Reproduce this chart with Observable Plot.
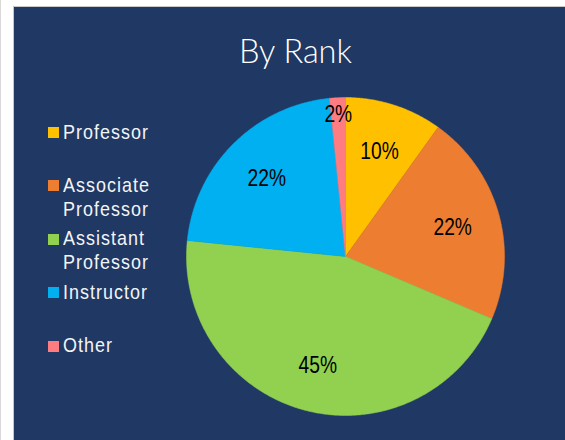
<!DOCTYPE html>
<html>
<head>
<meta charset="utf-8">
<script src="https://cdn.jsdelivr.net/npm/d3@7"></script>
<script src="https://cdn.jsdelivr.net/npm/@observablehq/plot@0.6"></script>
<style>
  html, body { margin: 0; padding: 0; background: #ffffff; }
  body { width: 565px; height: 440px; position: relative; overflow: hidden; }
  #edge { position: absolute; left: 0; top: 0; width: 1px; height: 440px; background: #d9d9d9; }
  #panel { position: absolute; left: 13px; top: 6px; width: 552px; height: 434px;
           background: #1f3864; border-left: 1px solid #c8c8c8; border-top: 1px solid #c8c8c8; box-sizing: border-box; }
  #title { position: absolute; left: 0; width: 563px; top: 28px; text-align: center;
           font-family: Lato, "Open Sans", sans-serif; font-weight: 300; font-size: 32.5px; line-height: 1;
           color: #ffffff; }
  #legend { position: absolute; left: 34px; top: 112.7px; }
  .item { position: relative; height: 53.4px; }
  .sw { position: absolute; left: 0; top: 7.3px; width: 11px; height: 11px; }
  .lab { position: absolute; left: 15px; top: 0; white-space: pre; color: #f4f4f4;
         font-family: "Liberation Sans", Arial, sans-serif;
         font-size: 21px; line-height: 24px; letter-spacing: 1.2px;
         transform: scaleX(0.855); transform-origin: 0 0; }
  #chart { position: absolute; left: 0; top: 0; }
</style>
</head>
<body>
<div id="edge"></div>
<div id="panel">
  <div id="title">By Rank</div>
  <div id="legend"></div>
  <div id="chart"></div>
</div>
<script>
// Data
const categories = ["Professor", "Associate Professor", "Assistant Professor", "Instructor", "Other"];
const legendLabels = ["Professor", "Associate\nProfessor", "Assistant\nProfessor", "Instructor", "Other"];
const shares = [9.9, 21.5, 45.2, 21.8, 1.6];
const sliceLabels = ["10%", "22%", "45%", "22%", "2%"];
const colors = ["#ffc000", "#ed7d31", "#92d050", "#00b0f0", "#ff7c80"];

// Layout
const W = 551, H = 433;
const cx = 331, cy = 249, R = 159;

// Build slice polygons from the shares (clockwise from 12 o'clock)
const total = d3.sum(shares);
const polys = [];
const labels = [];
let acc = 0;
shares.forEach((v, i) => {
  const a0 = acc / total * 2 * Math.PI;
  acc += v;
  const a1 = acc / total * 2 * Math.PI;
  const n = Math.max(2, Math.ceil((a1 - a0) / (Math.PI / 360)));
  polys.push({cat: categories[i], px: 0, py: 0});
  for (let k = 0; k <= n; k++) {
    const a = a0 + (a1 - a0) * k / n;
    polys.push({cat: categories[i], px: R * Math.sin(a), py: R * Math.cos(a)});
  }
  polys.push({cat: categories[i], px: 0, py: 0});
  const am = (a0 + a1) / 2;
  const rf = v / total < 0.05 ? 0.9 : 0.7;
  labels.push({text: sliceLabels[i], px: rf * R * Math.sin(am), py: rf * R * Math.cos(am)});
});

const chart = Plot.plot({
  width: W,
  height: H,
  margin: 0,
  style: {background: "transparent", overflow: "visible"},
  x: {domain: [-cx, W - cx], axis: null},
  y: {domain: [-(H - cy), cy], axis: null},
  color: {domain: categories, range: colors},
  marks: [
    Plot.line(polys, {x: "px", y: "py", z: "cat", fill: "cat", stroke: "cat", strokeWidth: 0.5, curve: "linear"}),
    Plot.text(labels, {x: "px", y: "py", text: "text", fill: "#000000",
      fontFamily: "'Liberation Sans', Arial, sans-serif", fontSize: 24, dy: 1})
  ]
});
// condense the slice labels horizontally (narrow face in the original)
chart.querySelectorAll("text").forEach(t => {
  const tr = t.getAttribute("transform") || "";
  t.setAttribute("transform", tr + " scale(0.8,1)");
});
document.getElementById("chart").appendChild(chart);

// Legend
const legend = document.getElementById("legend");
categories.forEach((c, i) => {
  const item = document.createElement("div");
  item.className = "item";
  const sw = document.createElement("div");
  sw.className = "sw";
  sw.style.background = colors[i];
  const lab = document.createElement("div");
  lab.className = "lab";
  lab.textContent = legendLabels[i];
  item.appendChild(sw);
  item.appendChild(lab);
  legend.appendChild(item);
});
</script>
</body>
</html>
